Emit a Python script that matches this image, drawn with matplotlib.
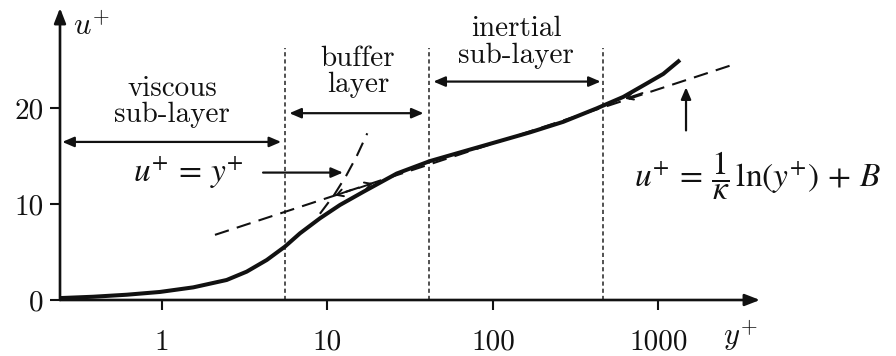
import matplotlib.pyplot as plt
from matplotlib.ticker import NullLocator

# mean velocity profile u+ against y+ (log scale)
y_plus = [0.242, 0.384, 0.612, 0.972, 1.546, 2.46, 3.25, 4.30, 5.53, 6.82,
          9.01, 11.9, 16.5, 26.2, 41.6, 66.1, 105.3, 167.3, 266, 423, 613,
          849, 1069, 1349]
u_plus = [0.20, 0.34, 0.55, 0.84, 1.32, 2.09, 2.96, 4.18, 5.57, 6.96,
          8.53, 9.92, 11.3, 13.2, 14.5, 15.5, 16.5, 17.5, 18.6, 20.0, 21.2,
          22.6, 23.6, 25.05]

# linear law u+ = y+ near the wall
lin_y = [9.0, 11.0, 13.0, 15.0, 17.4]
lin_u = [9.0, 11.0, 13.0, 15.0, 17.4]

# log law, straight on the semi-log axes
log_y = [2.09, 2980]
log_u = [6.8, 24.7]

# region boundaries in y+
zone_edges = [5.53, 41.0, 462]
zone_top = 26.3

x_ticks = [1, 10, 100, 1000]
x_ticklabels = ['1', '10', '100', '1000']
y_ticks = [0, 10, 20]
y_ticklabels = ['0', '10', '20']

plt.rcParams['font.family'] = 'cmr10'
plt.rcParams['axes.formatter.use_mathtext'] = True
ink = '#111111'

fig = plt.figure(figsize=(8.96, 3.56), dpi=100)
ax = fig.add_axes([60 / 896, 56 / 356, 700 / 896, 292 / 356])
ax.set_xscale('log')
ax.set_xlim(0.242, 4106)
ax.set_ylim(0, 30.48)

for s in ax.spines.values():
    s.set_visible(False)
ax.patch.set_alpha(0)

# axes drawn as arrows
axis_arrow = dict(arrowstyle='-|>,head_length=0.9,head_width=0.35', lw=1.9,
                  color=ink, shrinkA=0, shrinkB=0)
ax.annotate('', xy=(1, 0), xytext=(0, 0), xycoords='axes fraction',
            arrowprops=axis_arrow)
ax.annotate('', xy=(0, 1), xytext=(0, 0), xycoords='axes fraction',
            arrowprops=axis_arrow)

ax.set_xticks(x_ticks)
ax.set_xticklabels(x_ticklabels)
ax.xaxis.set_minor_locator(NullLocator())
ax.set_yticks(y_ticks)
ax.set_yticklabels(y_ticklabels)
ax.tick_params(axis='both', direction='out', length=7, width=1.5,
               colors=ink, labelsize=21)
ax.tick_params(axis='x', pad=14)
ax.tick_params(axis='y', pad=5)

# region boundaries
ax.vlines(zone_edges, 0, zone_top, colors='#333333', lw=1.2,
          linestyles=(0, (2.5, 1.8)))

# asymptotic laws
ax.plot(log_y, log_u, color=ink, lw=1.5, linestyle=(0, (7, 4)))
ax.plot(lin_y, lin_u, color=ink, lw=1.5, linestyle=(0, (7, 4)))

# profile
ax.plot(y_plus, u_plus, color=ink, lw=2.9, solid_capstyle='butt',
        solid_joinstyle='round')

# small open heads on the log law line
head = dict(arrowstyle='->,head_length=0.45,head_width=0.25', lw=1.4,
            color=ink, shrinkA=0, shrinkB=0)
ax.annotate('', xy=(11.1, 10.9), xytext=(14.0, 11.5), arrowprops=head)
ax.annotate('', xy=(18.8, 12.2), xytext=(15.5, 11.7), arrowprops=head)
ax.annotate('', xy=(628, 21.0), xytext=(800, 21.6), arrowprops=head)

# region labels with double arrows
dbl = dict(arrowstyle='<|-|>,head_length=0.7,head_width=0.3', lw=1.6,
           color=ink, shrinkA=1, shrinkB=1)
ax.annotate('', xy=(5.35, 16.5), xytext=(0.245, 16.5), arrowprops=dbl)
ax.annotate('', xy=(38.8, 19.5), xytext=(5.77, 19.5), arrowprops=dbl)
ax.annotate('', xy=(456, 22.8), xytext=(42.8, 22.8), arrowprops=dbl)

ax.text(1.15, 20.7, 'viscous\nsub-layer', ha='center', va='center',
        fontsize=21, linespacing=1.0, color=ink)
ax.text(15.3, 23.8, 'buffer\nlayer', ha='center', va='center',
        fontsize=21, linespacing=1.0, color=ink)
ax.text(137.7, 26.9, 'inertial\nsub-layer', ha='center', va='center',
        fontsize=21, linespacing=1.0, color=ink)

# law labels
one = dict(arrowstyle='-|>,head_length=0.7,head_width=0.3', lw=1.6,
           color=ink, shrinkA=0, shrinkB=0)
ax.text(1.44, 13.3, r'$u^{+}\,=\,y^{+}$', ha='center', va='center',
        fontsize=24, math_fontfamily='stix', color=ink)
ax.annotate('', xy=(12.4, 13.3), xytext=(4.08, 13.3), arrowprops=one)

ax.text(715, 13.0,
        r'$u^{+}\,=\,\dfrac{1}{\kappa}\,\ln(y^{+})\,+\,B$',
        ha='left', va='center', fontsize=24, math_fontfamily='stix',
        color=ink)
ax.annotate('', xy=(1467, 22.2), xytext=(1467, 17.7), arrowprops=one)

# axis names
ax.text(0.29, 27.7, r'$u^{+}$', ha='left', va='baseline', fontsize=22,
        math_fontfamily='cm', color=ink)
ax.text(2455, -4.7, r'$y^{+}$', ha='left', va='baseline', fontsize=22,
        math_fontfamily='cm', color=ink)

fig.savefig('out.png', dpi=100)
